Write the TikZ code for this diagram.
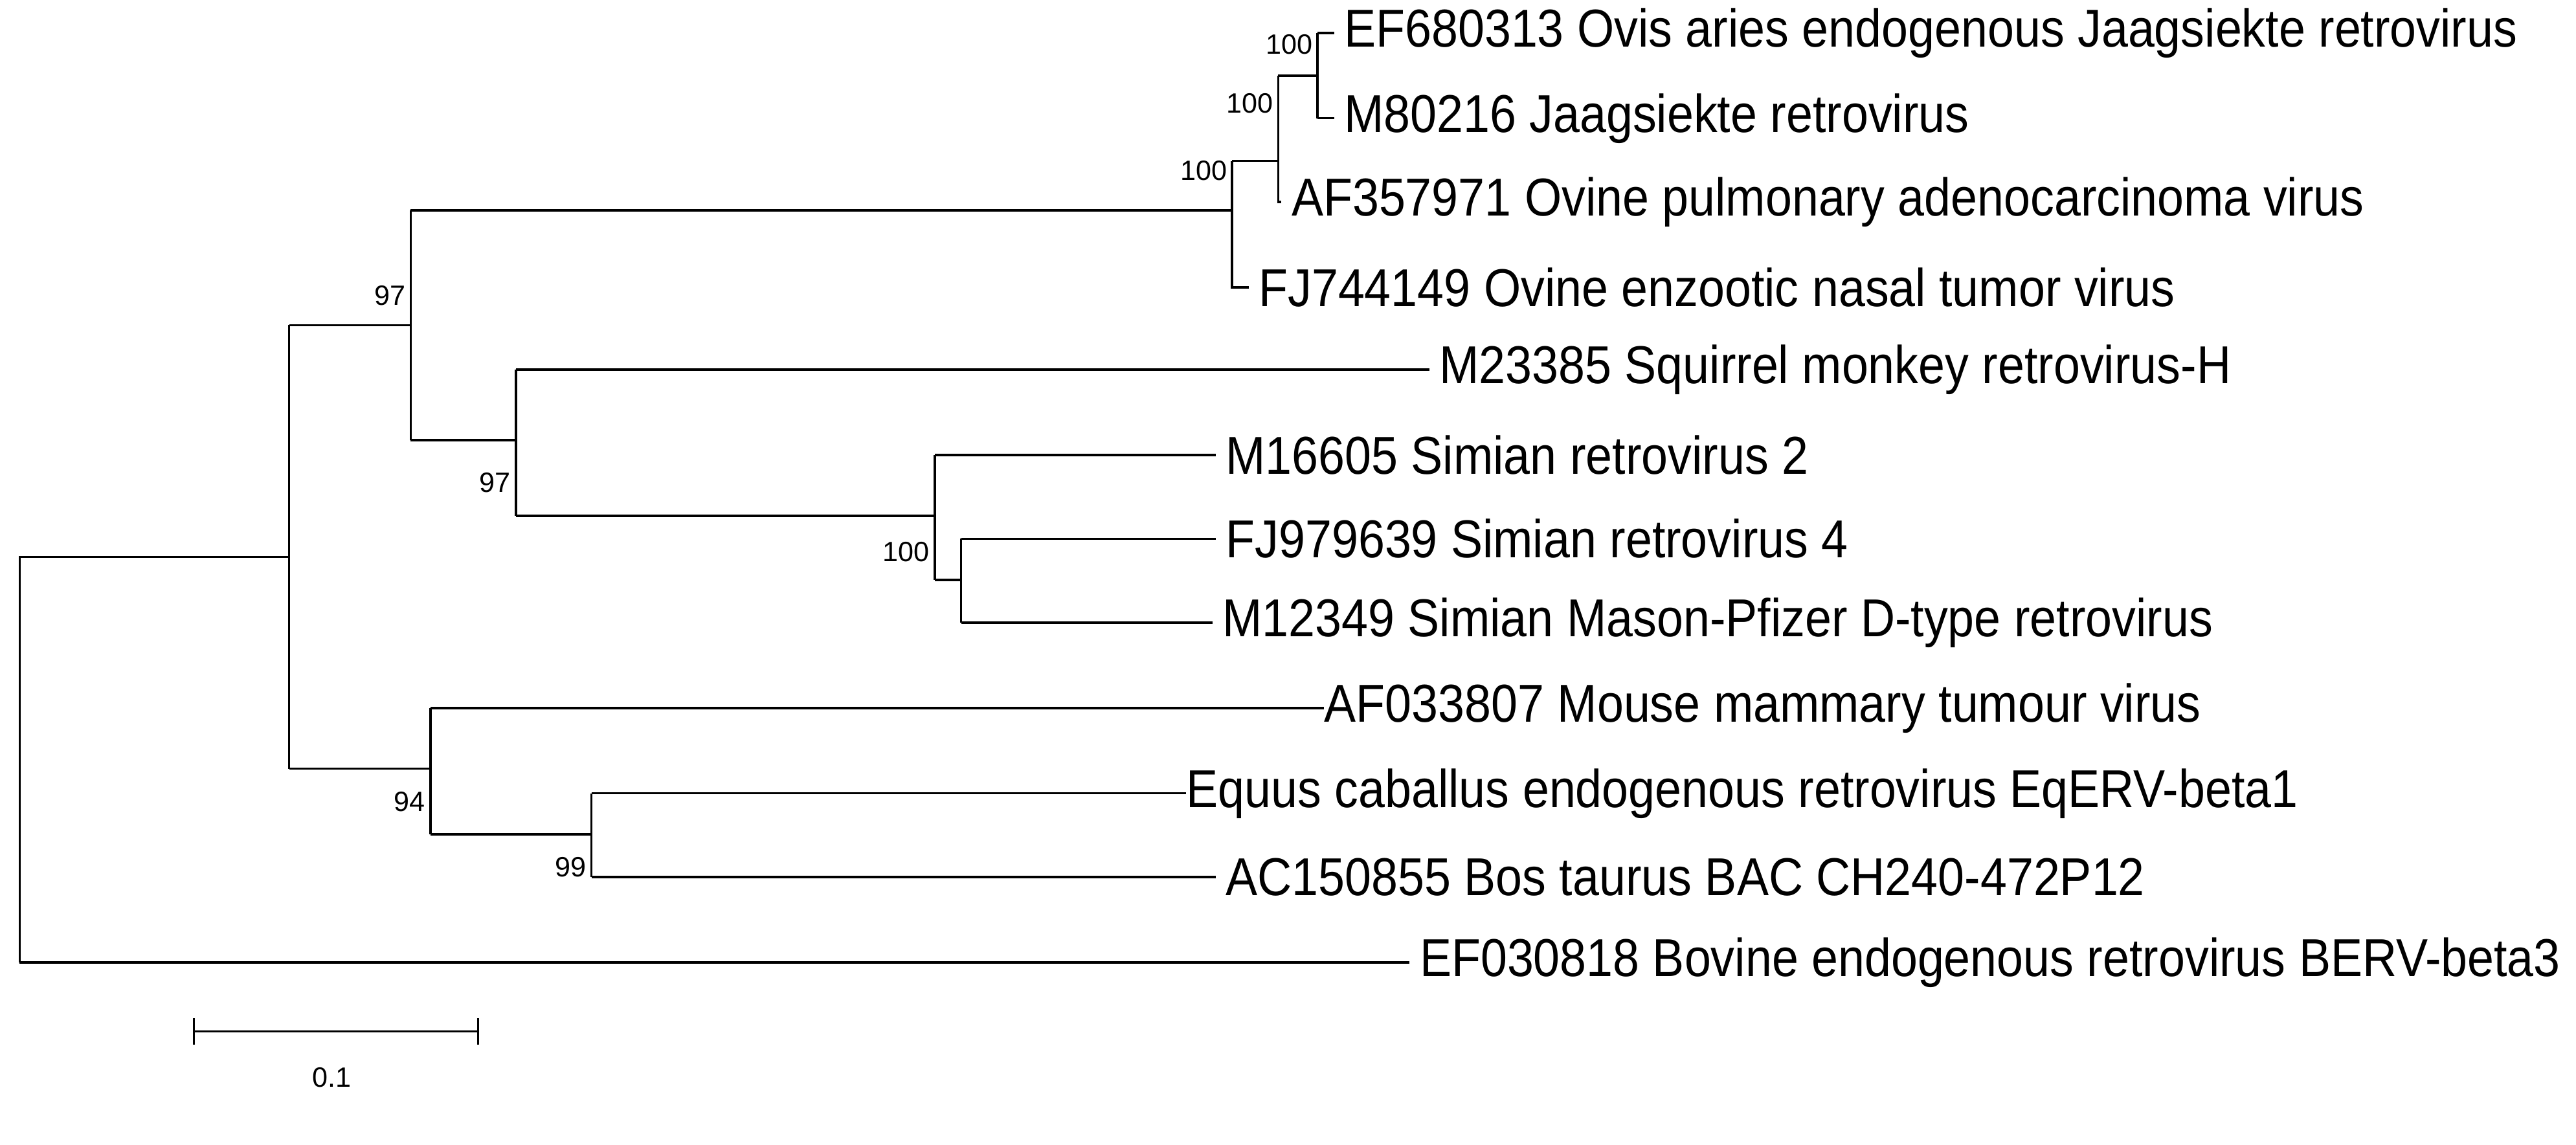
\documentclass[tikz,border=0pt]{standalone}
\usepackage{fontspec}
\setmainfont{Liberation Sans}
\begin{document}
\begin{tikzpicture}[x=1pt,y=-1pt,br/.style={line width=1.4pt,black},
 leaf/.style={anchor=west,font=\fontsize{29}{32}\selectfont,inner sep=0pt,xshift=6pt,yscale=1.12},
 bs/.style={font=\fontsize{17}{20}\selectfont,inner sep=1pt}]
\useasboundingbox (0,0) rectangle (1568,697);
% internal nodes
\coordinate (R) at (12,339);
\coordinate (A) at (176,339);
\coordinate (B) at (250,198);
\coordinate (C) at (750,128);
\coordinate (D) at (778,98);
\coordinate (E) at (802,46);
\coordinate (F) at (314,268);
\coordinate (G) at (569,314);
\coordinate (G2) at (585,353);
\coordinate (H) at (262,468);
\coordinate (I) at (360,508);
% leaf labels
\node[leaf] (l1) at (812,20) {EF680313 Ovis aries endogenous Jaagsiekte retrovirus};
\node[leaf] (l2) at (812,72) {M80216 Jaagsiekte retrovirus};
\node[leaf] (l3) at (780,123) {AF357971 Ovine pulmonary adenocarcinoma virus};
\node[leaf] (l4) at (760,175) {FJ744149 Ovine enzootic nasal tumor virus};
\node[leaf] (l5) at (870,225) {M23385 Squirrel monkey retrovirus-H};
\node[leaf] (l6) at (740,277) {M16605 Simian retrovirus 2};
\node[leaf] (l7) at (740,328) {FJ979639 Simian retrovirus 4};
\node[leaf] (l8) at (738,379) {M12349 Simian Mason-Pfizer D-type retrovirus};
\node[leaf,xshift=-6pt] (l9) at (806,431) {AF033807 Mouse mammary tumour virus};
\node[leaf,xshift=-6pt] (l10) at (722,483) {Equus caballus endogenous retrovirus EqERV-beta1};
\node[leaf] (l11) at (740,534) {AC150855 Bos taurus BAC CH240-472P12};
\node[leaf] (l12) at (858,586) {EF030818 Bovine endogenous retrovirus BERV-beta3};
% branches
\draw[br] (12,586) -- (12,339) -- (A);
\draw[br] (12,586) -- (858,586);
\draw[br] (176,198) -- (176,468);
\draw[br] (176,198) -- (B); \draw[br] (176,468) -- (H);
\draw[br] (250,128) -- (250,268);
\draw[br] (250,128) -- (C); \draw[br] (250,268) -- (F);
\draw[br] (750,98) -- (750,175) -- (760,175);
\draw[br] (750,98) -- (D);
\draw[br] (778,46) -- (778,123) -- (780,123);
\draw[br] (778,46) -- (E);
\draw[br] (802,20) -- (802,72);
\draw[br] (802,20) -- (812,20); \draw[br] (802,72) -- (812,72);
\draw[br] (314,225) -- (314,314);
\draw[br] (314,225) -- (870,225); \draw[br] (314,314) -- (G);
\draw[br] (569,277) -- (569,353);
\draw[br] (569,277) -- (740,277); \draw[br] (569,353) -- (G2);
\draw[br] (585,328) -- (585,379);
\draw[br] (585,328) -- (740,328); \draw[br] (585,379) -- (738,379);
\draw[br] (262,431) -- (262,508);
\draw[br] (262,431) -- (806,431); \draw[br] (262,508) -- (I);
\draw[br] (360,483) -- (360,534);
\draw[br] (360,483) -- (722,483); \draw[br] (360,534) -- (740,534);
% bootstrap
\node[bs,anchor=east] (b1) at (800,27) {100};
\node[bs,anchor=east] (b2) at (776,63) {100};
\node[bs,anchor=east] (b3) at (748,104) {100};
\node[bs,anchor=east] (b4) at (248,180) {97};
\node[bs,anchor=east] (b5) at (312,294) {97};
\node[bs,anchor=east] (b6) at (567,336) {100};
\node[bs,anchor=east] (b7) at (260,488) {94};
\node[bs,anchor=east] (b8) at (358,528) {99};
% scale bar
\coordinate (s1) at (118,628); \coordinate (s2) at (291,628);
\draw[br] (s1) -- (s2);
\draw[br] (118,620) -- (118,636);
\draw[br] (291,620) -- (291,636);
\node[bs] (sl) at (202,656) {0.1};
\end{tikzpicture}
\end{document}
